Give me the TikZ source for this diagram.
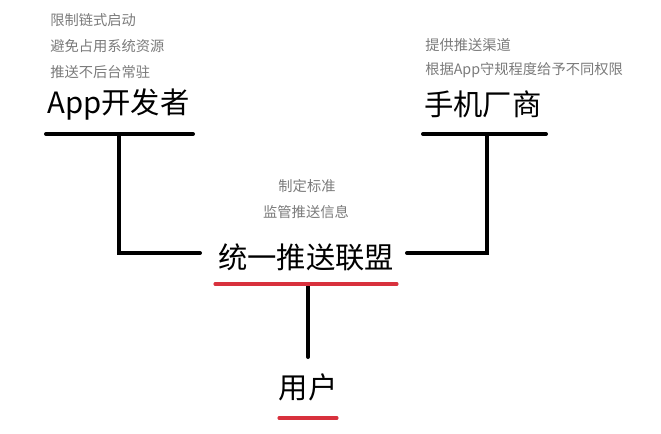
\documentclass[tikz,border=0pt]{standalone}
\usepackage{fontspec}
\usepackage{tikz}
\usetikzlibrary{positioning, calc}
\newfontfamily\cjk{Noto Sans CJK SC}
\definecolor{notegray}{HTML}{7A7A7A}
\definecolor{redline}{HTML}{D8313D}

\begin{document}
\begin{tikzpicture}[x=0.75pt, y=-0.75pt,
        every node/.style={font=\cjk, inner sep=0pt},
        role/.style={font=\cjk\fontsize{22}{26}\selectfont},
        note/.style={font=\cjk\fontsize{10.7}{13}\selectfont,
          text=notegray},
        bar/.style={line width=3pt, color=black, line cap=round},
        redbar/.style={line width=2.3pt, color=redline, line cap=round}]
      \useasboundingbox (0,0) rectangle (661,433);

      % app developers
      \node[note, anchor=west] (dev1) at (50,20) {限制链式启动};
      \node[note, anchor=west] (dev2) at (50,46) {避免占用系统资源};
      \node[note, anchor=west] (dev3) at (50,72) {推送不后台常驻};
      \node[role, anchor=west] (dev) at (47,104) {App开发者};

      % phone makers
      \node[note, anchor=west] (ven1) at (425,45) {提供推送渠道};
      \node[note, anchor=west] (ven2) at (425,70) {根据App守规程度给予不同权限};
      \node[role, anchor=west] (ven) at (424,104) {手机厂商};

      % alliance
      \node[note] (uni1) at (307,186) {制定标准};
      \node[note] (uni2) at (306,212) {监管推送信息};
      \node[role] (uni) at (306,257) {统一推送联盟};

      % users
      \node[role] (usr) at (308,387) {用户};

      \coordinate (devL) at (46,134);
      \coordinate (devR) at (193,134);
      \coordinate (devT) at (119,134);
      \coordinate (uniW) at (200,253);
      \coordinate (venL) at (423,134);
      \coordinate (venR) at (546,134);
      \coordinate (venT) at (487,134);
      \coordinate (uniE) at (407,253);
      \coordinate (uniL) at (215,284);
      \coordinate (uniR) at (397,284);
      \coordinate (uniB) at (308,284);
      \coordinate (usrT) at (308,357);
      \coordinate (usrL) at (279,418);
      \coordinate (usrR) at (337,418);

      \draw[bar] (devL) -- (devR);
      \draw[bar] (devT) |- (uniW);
      \draw[bar] (venL) -- (venR);
      \draw[bar] (venT) |- (uniE);
      \draw[bar] (uniB) -- (usrT);
      \draw[redbar] (uniL) -- (uniR);
      \draw[redbar] (usrL) -- (usrR);
    \end{tikzpicture}
\end{document}
